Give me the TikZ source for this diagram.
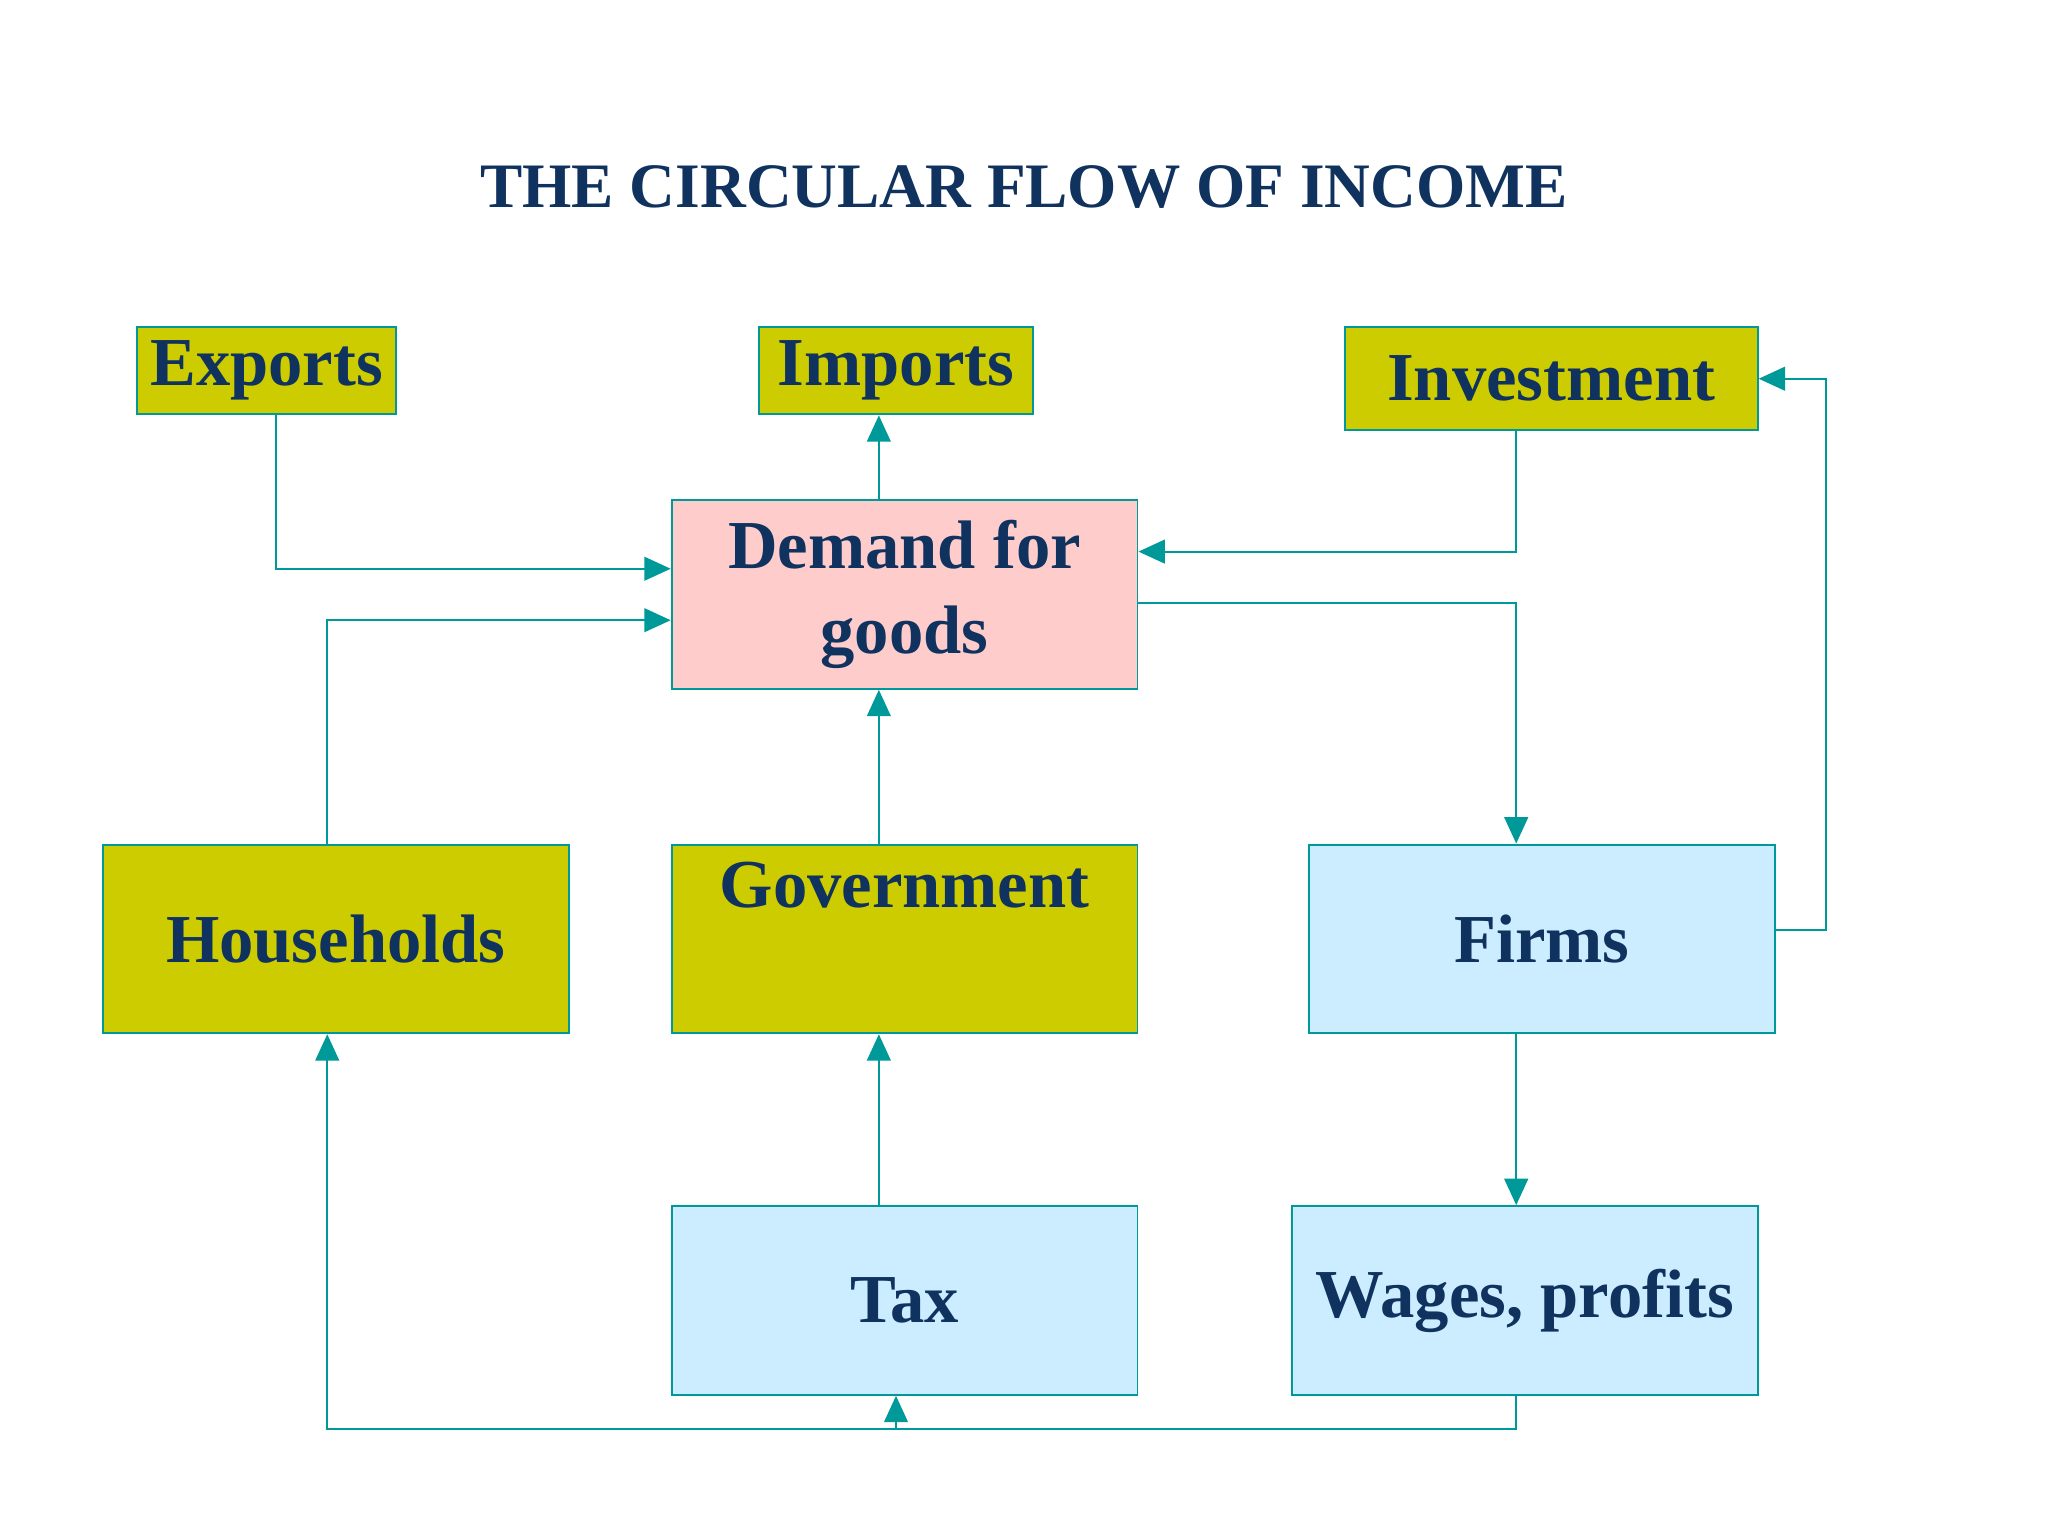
\documentclass[tikz,border=0pt]{standalone}
\usepackage{fontspec}
\setmainfont{Liberation Serif}
\usetikzlibrary{arrows.meta}
\definecolor{olive}{HTML}{CCCC00}
\definecolor{pinkb}{HTML}{FFCCCC}
\definecolor{blueb}{HTML}{CCECFF}
\definecolor{teal2}{HTML}{009999}
\definecolor{navy}{HTML}{10325F}
\tikzset{
 box/.style={draw=teal2,line width=1.5pt,inner sep=0pt,text=navy,font=\bfseries\fontsize{52}{64}\selectfont,align=center},
 arr/.style={draw=teal2,line width=1.5pt,-{Triangle[length=20pt,width=18pt]}},
 ln/.style={draw=teal2,line width=1.5pt}
}
\newcommand{\bx}[7]{\node[box,fill=#6,minimum width={(#3-#1)*1pt},minimum height={(#4-#2)*1pt}] (#5) at ({(#1+#3)/2},{-(#2+#4)/2}) {#7};}
\begin{document}
\begin{tikzpicture}[x=1pt,y=1pt]
\useasboundingbox[fill=white] (0,0) rectangle (1552,-1164);
\node[text=navy,font=\bfseries\fontsize{48}{56}\selectfont] (title) at (776,-142) {THE CIRCULAR FLOW OF INCOME};
\bx{104}{248}{300}{314}{ex}{olive}{Exports}
\bx{575}{248}{783}{314}{im}{olive}{Imports}
\bx{1019}{248}{1332}{326}{inv}{olive}{Investment}
\bx{509}{379}{862}{522}{dem}{pinkb}{Demand for\\goods}
\bx{78}{640}{431}{783}{hh}{olive}{Households}
\bx{509}{640}{862}{783}{gov}{olive}{Government\\[18pt]}
\bx{992}{640}{1345}{783}{firm}{blueb}{Firms}
\bx{509}{914}{862}{1057}{tax}{blueb}{Tax}
\bx{979}{914}{1332}{1057}{wag}{blueb}{Wages, profits}
\draw[arr] (ex.south -| 209,0) |- (dem.west |- 0,-431);
\draw[arr] (hh.north -| 248,0) |- (dem.west |- 0,-470);
\draw[arr] (dem.north -| 666,0) -- (im.south -| 666,0);
\draw[arr] (inv.south -| 1149,0) |- (dem.east |- 0,-418);
\draw[arr] (dem.east |- 0,-457) -| (firm.north -| 1149,0);
\draw[arr] (gov.north -| 666,0) -- (dem.south -| 666,0);
\coordinate (fr) at (1384,-705);
\draw[arr] (firm.east |- fr) -- (fr) |- (inv.east |- 0,-287);
\draw[arr] (firm.south -| 1149,0) -- (wag.north -| 1149,0);
\draw[arr] (tax.north -| 666,0) -- (gov.south -| 666,0);
\coordinate (bl) at (248,-1083);
\coordinate (tb) at (679,-1083);
\draw[arr] (wag.south -| 1149,0) |- (bl) -- (hh.south -| 248,0);
\draw[arr] (tb) -- (tax.south -| 679,0);
\end{tikzpicture}
\end{document}
